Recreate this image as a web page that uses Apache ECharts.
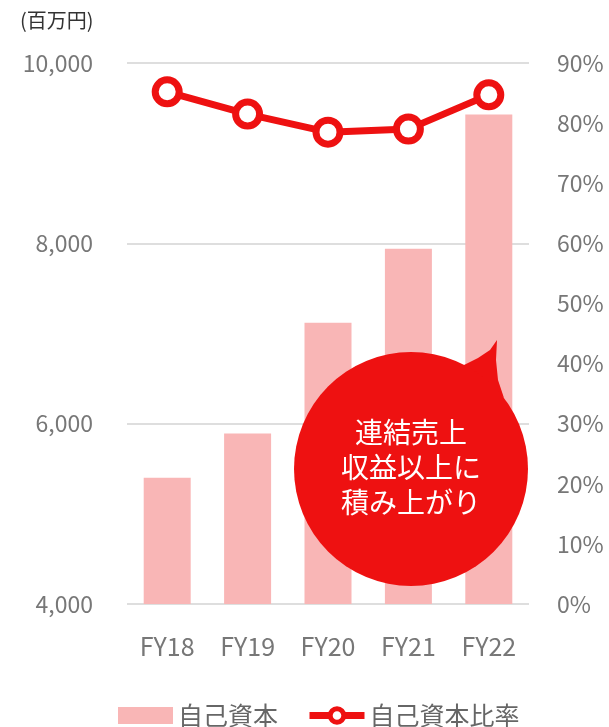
<!DOCTYPE html>
<html>
<head>
<meta charset="utf-8">
<script src="https://cdn.jsdelivr.net/npm/echarts@6/dist/echarts.min.js"></script>
<style>
  html, body { margin: 0; padding: 0; background: #fff; }
  #chart { width: 609px; height: 727px; }
</style>
</head>
<body>
<div id="chart"></div>
<script>
// データ
const categories = ["FY18", "FY19", "FY20", "FY21", "FY22"];
const equity = [5400, 5890, 7120, 7940, 9430];       // 自己資本（百万円）
const equityRatio = [85.2, 81.5, 78.5, 79.0, 84.7];  // 自己資本比率（%）
const bubbleLines = ["連結売上", "収益以上に", "積み上がり"];

const FONT = "Noto Sans CJK JP";
const RED = "#ee1111";
const PINK = "#f9b6b6";

const chart = echarts.init(document.getElementById("chart"));
chart.setOption({
  animation: false,
  textStyle: { fontFamily: FONT },
  title: {
    text: "(百万円)",
    left: 15,
    top: 5,
    textStyle: { fontFamily: FONT, fontSize: 20, fontWeight: "normal", color: "#333" },
  },
  grid: { left: 127, right: 80, top: 63, bottom: 123 },
  legend: {
    left: 113,
    top: 698,
    itemWidth: 55,
    itemHeight: 17,
    itemGap: 28,
    textStyle: { fontFamily: FONT, fontSize: 25, color: "#666" },
    data: [
      { name: "自己資本", icon: "rect" },
      {
        name: "自己資本比率",
        lineStyle: { width: 7 },
        itemStyle: { borderWidth: 5 },
      },
    ],
  },
  xAxis: {
    type: "category",
    data: categories,
    axisLine: { show: false },
    axisTick: { show: false },
    axisLabel: { margin: 30, fontSize: 25, color: "#777", fontFamily: FONT },
  },
  yAxis: [
    {
      type: "value",
      min: 4000,
      max: 10000,
      interval: 2000,
      axisLine: { show: false },
      axisTick: { show: false },
      splitLine: { lineStyle: { color: "#dedede", width: 2 } },
      axisLabel: {
        margin: 34,
        fontSize: 23,
        color: "#777",
        fontFamily: FONT,
        formatter: (v) => v.toLocaleString("en-US"),
      },
    },
    {
      type: "value",
      min: 0,
      max: 90,
      interval: 10,
      axisLine: { show: false },
      axisTick: { show: false },
      splitLine: { show: false },
      axisLabel: { margin: 28, fontSize: 23, color: "#777", fontFamily: FONT, formatter: "{value}%" },
    },
  ],
  series: [
    {
      name: "自己資本",
      type: "bar",
      data: equity,
      barWidth: 47,
      itemStyle: { color: PINK },
    },
    {
      name: "自己資本比率",
      type: "line",
      yAxisIndex: 1,
      data: equityRatio,
      symbol: "circle",
      symbolSize: 24,
      lineStyle: { color: RED, width: 7 },
      itemStyle: { color: "#fff", borderColor: RED, borderWidth: 7 },
      z: 5,
    },
  ],
  // 吹き出し
  graphic: [
    {
      type: "polygon",
      z: 100,
      shape: { points: [[462, 366], [478, 358], [490, 350], [497, 340], [496, 360], [498, 380], [504, 398]] },
      style: { fill: RED },
    },
    {
      type: "circle",
      z: 100,
      shape: { cx: 411, cy: 469, r: 117 },
      style: { fill: RED },
    },
    {
      type: "text",
      z: 101,
      x: 411,
      y: 467,
      style: {
        text: bubbleLines.join("\n"),
        fill: "#fff",
        font: "28px '" + FONT + "'",
        lineHeight: 35,
        align: "center",
        verticalAlign: "middle",
      },
    },
  ],
});
</script>
</body>
</html>
